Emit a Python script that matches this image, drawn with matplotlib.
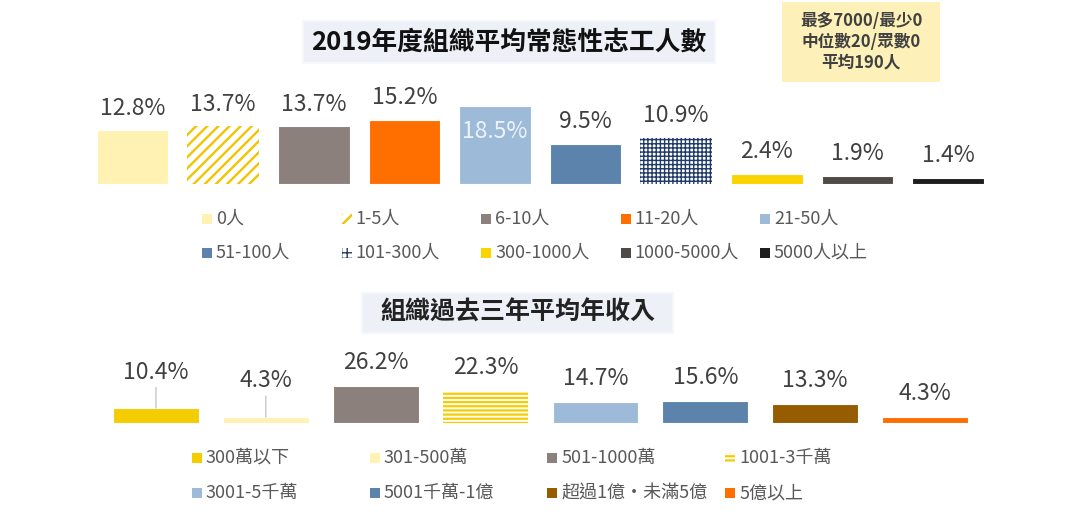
import matplotlib as mpl
import matplotlib.pyplot as plt
from matplotlib.patches import Rectangle

plt.rcParams['font.family'] = ['Noto Sans CJK TC', 'DejaVu Sans']
plt.rcParams['hatch.linewidth'] = 1.6

W, H = 1080, 517

# ---------- 資料 ----------
vol_labels = ['0人', '1-5人', '6-10人', '11-20人', '21-50人',
              '51-100人', '101-300人', '300-1000人', '1000-5000人', '5000人以上']
vol_values = [12.8, 13.7, 13.7, 15.2, 18.5, 9.5, 10.9, 2.4, 1.9, 1.4]

inc_labels = ['300萬以下', '301-500萬', '501-1000萬', '1001-3千萬',
              '3001-5千萬', '5001千萬-1億', '超過1億・未滿5億', '5億以上']
inc_values = [10.4, 4.3, 26.2, 22.3, 14.7, 15.6, 13.3, 4.3]

stats_text = '最多7000/最少0\n中位數20/眾數0\n平均190人'

# ---------- 樣式 ----------
# (facecolor, hatchcolor, bar hatch, legend hatch, hatch linewidth)
vol_style = [
    ('#fff2b3', None, None, None, 0),
    ('white', '#f2c400', '///', '///', 1.7),
    ('#8b807b', None, None, None, 0),
    ('#ff6f00', None, None, None, 0),
    ('#9dbbd9', None, None, None, 0),
    ('#5b83ab', None, None, None, 0),
    ('white', '#1f3a66', '++++', '+++', 1.0),
    ('#f9d400', None, None, None, 0),
    ('#4e4a47', None, None, None, 0),
    ('#1e1e1e', None, None, None, 0),
]
inc_style = [
    ('#f5cc00', None, None, None, 0),
    ('#fff2b3', None, None, None, 0),
    ('#8b807b', None, None, None, 0),
    ('white', '#f5cc00', '----', '----', 1.6),
    ('#9dbbd9', None, None, None, 0),
    ('#5b83ab', None, None, None, 0),
    ('#965c00', None, None, None, 0),
    ('#ff6f00', None, None, None, 0),
]

TXT = '#404040'
LEG = '#595959'


def fx(px):
    return px / W


def fy(py):
    return 1 - py / H


def set_hlw(p, lw):
    if hasattr(p, 'set_hatch_linewidth'):
        p.set_hatch_linewidth(lw)


def draw_bars(ax, values, styles, width):
    for i, (v, (fc, hc, hatch, _, hlw)) in enumerate(zip(values, styles)):
        if hatch:
            with mpl.rc_context({'hatch.linewidth': hlw}):
                b = ax.bar(i, v, width, color=fc, edgecolor=hc, hatch=hatch, linewidth=0)
            set_hlw(b[0], hlw)
        else:
            ax.bar(i, v, width, color=fc, edgecolor='white', linewidth=0.8)


def draw_legend(labels, styles, x0, dx, rows_y, ncol, fs):
    for k, (lab, (fc, hc, _, hatch, hlw)) in enumerate(zip(labels, styles)):
        r, c = divmod(k, ncol)
        x = x0 + c * dx
        y = rows_y[r]
        if hatch:
            with mpl.rc_context({'hatch.linewidth': hlw}):
                p = Rectangle((fx(x), fy(y + 5)), 10 / W, 10 / H, transform=fig.transFigure,
                              facecolor='white', edgecolor=hc, hatch=hatch, linewidth=0)
            set_hlw(p, hlw)
        else:
            p = Rectangle((fx(x), fy(y + 5)), 10 / W, 10 / H, transform=fig.transFigure,
                          facecolor=fc, edgecolor='none')
        fig.add_artist(p)
        fig.text(fx(x + 14), fy(y), lab, fontsize=fs, color=LEG, va='center', ha='left')


def title_box(x0, y0, x1, y1, text, fs, color):
    fig.add_artist(Rectangle((fx(x0), fy(y1)), (x1 - x0) / W, (y1 - y0) / H,
                             transform=fig.transFigure, facecolor='#edf1f7',
                             edgecolor='#f5f7fa', linewidth=1.5))
    fig.text(fx((x0 + x1) / 2), fy((y0 + y1) / 2), text, fontsize=fs, color=color,
             fontweight='bold', ha='center', va='center')


fig = plt.figure(figsize=(W / 100, H / 100), dpi=100)

# ---------- 上圖：志工人數 ----------
ax1 = fig.add_axes([fx(87.2), fy(184), (993.3 - 87.2) / W, 92.4 / H])
ax1.set_xlim(-0.5, len(vol_values) - 0.5)
ax1.set_ylim(0, 22)
ax1.axis('off')
draw_bars(ax1, vol_values, vol_style, 0.79)
inside = vol_values.index(max(vol_values))
for i, v in enumerate(vol_values):
    if i == inside:
        ax1.annotate(f'{v}%', (i, v), xytext=(0, -18), textcoords='offset points',
                     ha='center', va='center', fontsize=16.5, color='#eef3f9')
    else:
        ax1.annotate(f'{v}%', (i, v), xytext=(0, 16), textcoords='offset points',
                     ha='center', va='center', fontsize=16.5, color=TXT)

title_box(303, 21, 715, 63, '2019年度組織平均常態性志工人數', 18.5, '#111111')

fig.add_artist(Rectangle((fx(782), fy(82)), 158 / W, 80 / H, transform=fig.transFigure,
                         facecolor='#fdf1b9', edgecolor='none'))
fig.text(fx(861), fy(42), stats_text, fontsize=12, fontweight='bold', color=TXT,
         ha='center', va='center', linespacing=1.2)

draw_legend(vol_labels, vol_style, 202, 139.5, [219, 253], 5, 13)

# ---------- 下圖：年收入 ----------
ax2 = fig.add_axes([fx(101), fy(423), (980 - 101) / W, 42.6 / H])
ax2.set_xlim(-0.5, len(inc_values) - 0.5)
ax2.set_ylim(0, 30)
ax2.axis('off')
draw_bars(ax2, inc_values, inc_style, 0.78)
raised = [0, 1]
for i, v in enumerate(inc_values):
    if i in raised:
        ax2.annotate(f'{v}%', (i, v), xytext=(0, 26), textcoords='offset points',
                     ha='center', va='center', fontsize=16.5, color=TXT)
        ax2.annotate('', (i, v), xytext=(0, 15), textcoords='offset points',
                     arrowprops=dict(arrowstyle='-', color='#c8c8c8', lw=1,
                                     shrinkA=0, shrinkB=0))
    else:
        ax2.annotate(f'{v}%', (i, v), xytext=(0, 17), textcoords='offset points',
                     ha='center', va='center', fontsize=16.5, color=TXT)

title_box(362, 293, 673, 333, '組織過去三年平均年收入', 18, '#222222')

draw_legend(inc_labels, inc_style, 192, 177.7, [458, 493], 4, 13)

fig.savefig('out.png', dpi=100)
